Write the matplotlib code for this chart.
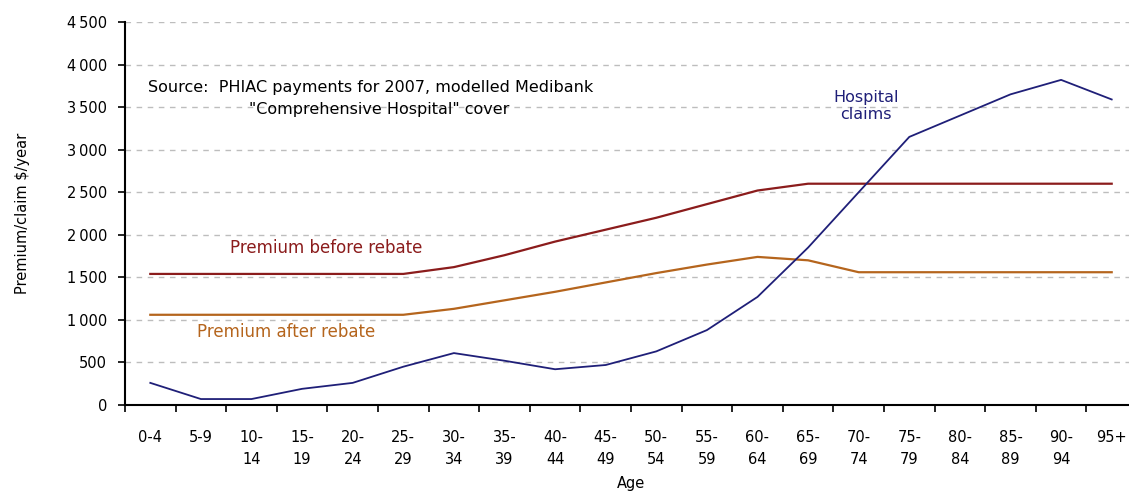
import numpy as np
import matplotlib.pyplot as plt

# ------------------------------------------
# Data
# ------------------------------------------

age_groups = ["0-4", "5-9", "10-\n14", "15-\n19", "20-\n24", "25-\n29", "30-\n34", "35-\n39",
              "40-\n44", "45-\n49", "50-\n54", "55-\n59", "60-\n64", "65-\n69", "70-\n74",
              "75-\n79", "80-\n84", "85-\n89", "90-\n94", "95+"]

premium_before = [1540, 1540, 1540, 1540, 1540, 1540, 1620, 1760, 1920, 2060,
                  2200, 2360, 2520, 2600, 2600, 2600, 2600, 2600, 2600, 2600]

premium_after = [1060, 1060, 1060, 1060, 1060, 1060, 1130, 1230, 1330, 1440,
                 1550, 1650, 1740, 1700, 1560, 1560, 1560, 1560, 1560, 1560]

hospital_claims = [260, 70, 70, 190, 260, 450, 610, 520, 420, 470,
                   630, 880, 1270, 1850, 2500, 3150, 3400, 3650, 3820, 3590]

y_ticks = [0, 500, 1000, 1500, 2000, 2500, 3000, 3500, 4000, 4500]
y_tick_labels = ["0", "500", "1\u2009000", "1\u2009500", "2\u2009000", "2\u2009500",
                 "3\u2009000", "3\u2009500", "4\u2009000", "4\u2009500"]

# ------------------------------------------
# Plot
# ------------------------------------------

c_before = "#8b1c1c"
c_after = "#b5651d"
c_claims = "#1f1f78"

fig = plt.figure(figsize=(11.29, 4.97), dpi=100)
ax = fig.add_axes([125/1129, 1 - 405/497, (1137-125)/1129, (405-22)/497])

x = np.arange(len(age_groups))
ax.plot(x, premium_before, color=c_before, lw=1.6)
ax.plot(x, premium_after, color=c_after, lw=1.6)
ax.plot(x, hospital_claims, color=c_claims, lw=1.3)

ax.set_xlim(-0.5, len(age_groups) - 0.5)
ax.set_ylim(0, 4500)

# Category boundaries get the tick marks, centres get the labels
ax.set_xticks(np.arange(len(age_groups) + 1) - 0.5)
ax.set_xticklabels([])
ax.set_xticks(x, minor=True)
ax.set_xticklabels(age_groups, minor=True, fontsize=10.5, linespacing=1.55, va="top")
ax.tick_params(axis="x", which="minor", length=0, pad=18)
ax.tick_params(axis="x", which="major", length=5, width=1.2, direction="out")

ax.set_yticks(y_ticks)
ax.set_yticklabels(y_tick_labels, fontsize=10.5)
ax.tick_params(axis="y", length=5, width=1.2, direction="out", pad=8)

ax.yaxis.grid(True, linestyle=(0, (4, 4)), color="#bdbdbd", lw=1)
ax.set_axisbelow(True)
for side in ["top", "right"]:
    ax.spines[side].set_visible(False)
for side in ["left", "bottom"]:
    ax.spines[side].set_linewidth(1.5)

ax.set_ylabel("Premium/claim $/year", fontsize=10.5, labelpad=26)
ax.set_xlabel("Age", fontsize=10.5, labelpad=7)

# Annotations
ax.text(-0.05, 3730, "Source:  PHIAC payments for 2007, modelled Medibank",
        fontsize=11.5, color="black", va="center")
ax.text(1.95, 3470, "\"Comprehensive Hospital\" cover",
        fontsize=11.5, color="black", va="center")
ax.text(1.57, 1840, "Premium before rebate", fontsize=12, color=c_before, va="center")
ax.text(0.92, 860, "Premium after rebate", fontsize=12, color=c_after, va="center")
ax.text(14.15, 3510, "Hospital\nclaims", fontsize=11.5, color=c_claims,
        ha="center", va="center", linespacing=1.15)

fig.savefig("out.png", dpi=100)
